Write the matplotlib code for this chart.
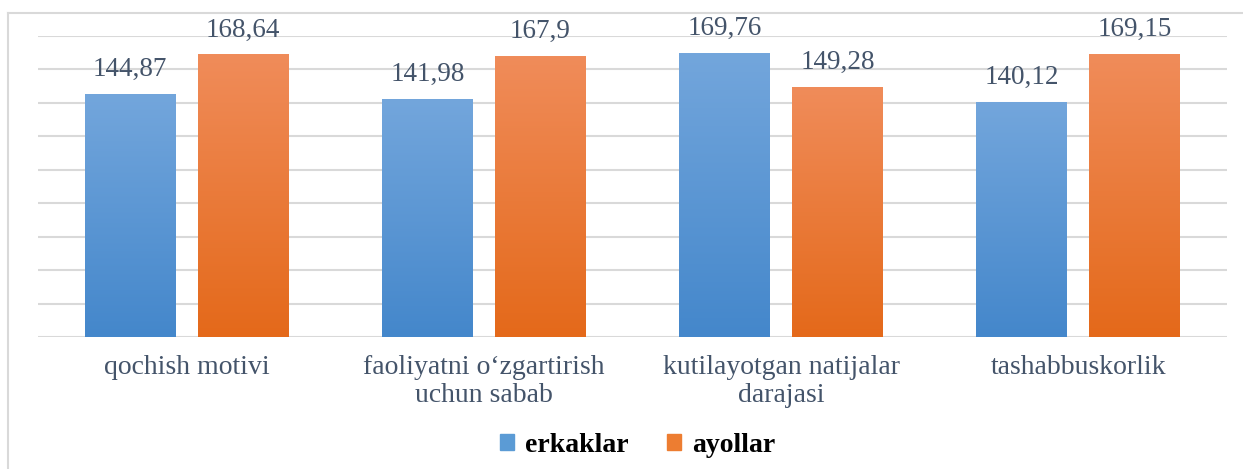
import numpy as np
import matplotlib.pyplot as plt
from matplotlib.patches import Patch
from matplotlib.colors import LinearSegmentedColormap

categories = ["qochish motivi", "faoliyatni o\u2018zgartirish\nuchun sabab",
              "kutilayotgan natijalar\ndarajasi", "tashabbuskorlik"]
erkaklar = [144.87, 141.98, 169.76, 140.12]
ayollar = [168.64, 167.9, 149.28, 169.15]

plt.rcParams['font.family'] = ['Liberation Serif', 'DejaVu Serif']

fig = plt.figure(figsize=(12.43, 4.69), dpi=100)
ax = fig.add_axes([38 / 1243, 1 - 337 / 469, (1227 - 38) / 1243, (337 - 36) / 469])

x = np.arange(len(categories))
w = 0.306
off = 0.19

blue_cm = LinearSegmentedColormap.from_list("b", ["#4487cb", "#73a6dc"])
orange_cm = LinearSegmentedColormap.from_list("o", ["#e4691a", "#f08c5a"])
grad = np.linspace(0, 1, 256).reshape(-1, 1)

bars1 = ax.bar(x - off, erkaklar, w, color="#5b9bd5", zorder=2)
bars2 = ax.bar(x + off, ayollar, w, color="#ed7d31", zorder=2)

for bars, cm in [(bars1, blue_cm), (bars2, orange_cm)]:
    for b in bars:
        x0 = b.get_x()
        ax.imshow(grad, cmap=cm, origin="lower", aspect="auto", zorder=3,
                  extent=(x0, x0 + b.get_width(), 0, b.get_height()))

for bars, vals in [(bars1, erkaklar), (bars2, ayollar)]:
    for b, v in zip(bars, vals):
        ax.annotate(f"{v:g}".replace(".", ","),
                    (b.get_x() + b.get_width() / 2, b.get_height()),
                    xytext=(0, 9), textcoords="offset points",
                    ha="center", va="bottom", fontsize=19.5, color="#44546a")

ax.set_xlim(-0.5, len(categories) - 0.5)
ax.set_ylim(0, 180)
ax.set_yticks(np.arange(0, 181, 20))
ax.set_yticklabels([])
ax.tick_params(axis="both", length=0)
ax.set_xticks(x)
ax.set_xticklabels(categories, fontsize=20, color="#44546a", linespacing=1.15)
ax.tick_params(axis="x", pad=13)
ax.grid(axis="y", color="#d9d9d9", linewidth=1.5, zorder=0)
for s in ax.spines.values():
    s.set_visible(False)

# outer chart border (top and left)
fig.add_artist(plt.Line2D([8 / 1243, 1], [1 - 13 / 469] * 2, color="#d9d9d9", lw=1.5))
fig.add_artist(plt.Line2D([8 / 1243] * 2, [0, 1 - 13 / 469], color="#d9d9d9", lw=1.5))

handles = [Patch(facecolor="#5b9bd5", edgecolor="#5b9bd5"),
           Patch(facecolor="#ed7d31", edgecolor="#ed7d31")]
fig.legend(handles, ["erkaklar", "ayollar"], loc="center", bbox_to_anchor=(0.513, 0.05),
           ncol=2, frameon=False, prop={"weight": "bold", "size": 20},
           handlelength=0.5, handleheight=0.5, handletextpad=0.4, columnspacing=1.4)

fig.savefig("out.png", dpi=100)
